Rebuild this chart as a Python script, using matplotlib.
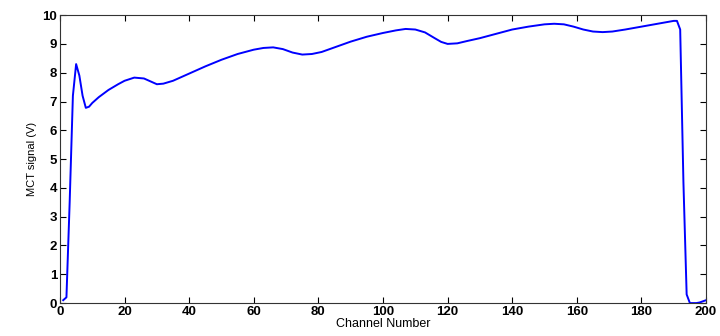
import matplotlib
matplotlib.use('Agg')
import matplotlib.pyplot as plt

plt.rcParams['font.family'] = ['Liberation Sans', 'DejaVu Sans']

channel = [1, 2, 3, 4, 5, 6, 7, 8, 9, 10, 12, 15, 18, 20, 23, 26, 28, 30, 32, 35,
           40, 45, 50, 55, 60, 63, 66, 69, 72, 75, 78, 81, 85, 90, 95, 100, 104,
           107, 110, 113, 116, 118, 120, 123, 126, 130, 135, 140, 145, 150, 153,
           156, 159, 162, 165, 168, 171, 175, 180, 185, 190, 191, 192, 193, 194,
           195, 196, 197, 198, 199, 200]
signal = [0.1, 0.2, 3.5, 7.2, 8.3, 7.9, 7.2, 6.78, 6.82, 6.95, 7.15, 7.4, 7.6, 7.72,
          7.83, 7.8, 7.7, 7.6, 7.62, 7.72, 7.97, 8.22, 8.45, 8.65, 8.8, 8.86, 8.88,
          8.82, 8.7, 8.63, 8.65, 8.72, 8.88, 9.08, 9.25, 9.38, 9.47, 9.52, 9.5, 9.4,
          9.2, 9.07, 9.0, 9.02, 9.1, 9.2, 9.35, 9.5, 9.6, 9.68, 9.7, 9.68, 9.6, 9.5,
          9.43, 9.41, 9.43, 9.5, 9.6, 9.7, 9.8, 9.8, 9.5, 4.2, 0.3, 0.0, 0.0, 0.0,
          0.02, 0.06, 0.1]

fig = plt.figure(figsize=(7.2, 3.36), dpi=100)
ax = fig.add_axes([0.0833, 0.098, 0.8973, 0.857])

ax.plot(channel, signal, color='#0000ff', lw=1.4)

ax.set_xlim(0, 200)
ax.set_ylim(0, 10)
ax.set_xticks(range(0, 201, 20))
ax.set_yticks(range(0, 11))
ax.tick_params(direction='in', length=4, width=0.8, top=True, right=True,
               labelsize=9.5, pad=2)
for lbl in ax.get_xticklabels() + ax.get_yticklabels():
    lbl.set_fontweight('bold')
for sp in ax.spines.values():
    sp.set_linewidth(0.8)
    sp.set_color('#333333')

ax.set_xlabel('Channel Number', fontsize=9, labelpad=0)
ax.set_ylabel('MCT signal (V)', fontsize=8, labelpad=4)

fig.savefig('out.png', dpi=100)
